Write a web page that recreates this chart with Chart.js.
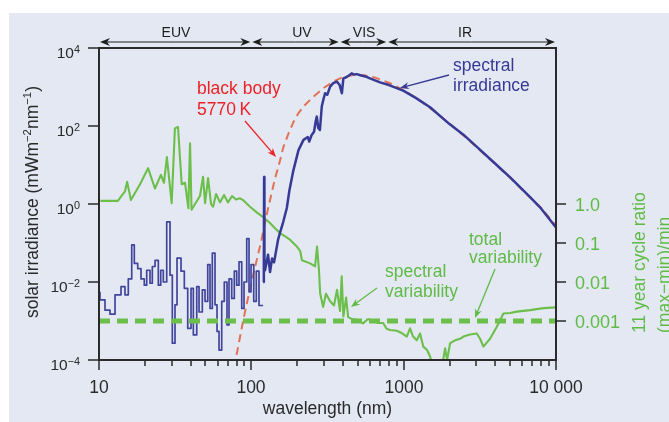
<!DOCTYPE html>
<html>
<head>
<meta charset="utf-8">
<title>Solar spectral irradiance</title>
<script src="https://cdn.jsdelivr.net/npm/chart.js@4.4.1/dist/chart.umd.min.js"></script>
<style>
  html, body { margin: 0; padding: 0; background: #ffffff; }
  #wrap { position: relative; width: 669px; height: 422px; overflow: hidden; }
  #panel { position: absolute; left: 9px; top: 13px; right: 0; bottom: 0; background: #e3e8f3; }
  #chart { position: absolute; left: 0; top: 0; }
</style>
</head>
<body>
<div id="wrap">
  <div id="panel"></div>
  <canvas id="chart" width="669" height="422"></canvas>
</div>
<script>
// ---- data: wavelength in nm, irradiance in mW m^-2 nm^-1, variability as (max-min)/min ----

// EUV irradiance, binned (each value holds until the next wavelength)
const euvWl = [10.15, 10.95, 11.81, 12.74, 13.95, 14.81, 15.57, 16.40, 17.05, 17.95,
  18.87, 19.83, 20.57, 21.62, 22.39, 23.33, 24.52, 25.42, 26.43, 27.83,
  29.26, 30.29, 31.55, 32.52, 34.55, 36.32, 38.23, 40.19, 41.62, 43.81,
  45.36, 47.68, 49.66, 51.73, 53.56, 55.45, 57.77, 59.54, 61.37, 63.91,
  66.46, 69.23, 71.37, 74.34, 77.32, 80.17, 83.01, 86.49, 89.55, 93.28,
  96.58, 99.54, 103.7, 107.8, 112.3, 117.0, 119.5];
const euvIrr = [5.6e-3, 3.5e-3, 1.9e-3, 1.5e-3, 4.7e-3, 7.6e-3, 4.7e-3, 1.2e-2, 8.9e-2, 3.0e-2,
  2.2e-2, 1.2e-2, 8.3e-3, 2.0e-2, 9.3e-3, 2.5e-2, 3.6e-2, 8.3e-3, 2.0e-2, 1.0e-2,
  0.35, 1.5e-2, 2.7e-4, 2.6e-3, 4.1e-2, 1.9e-2, 6.9e-3, 6.5e-4, 6.9e-3, 4.4e-4,
  7.6e-3, 1.7e-3, 6.3e-3, 3.2e-3, 2.8e-2, 2.1e-3, 5.5e-2, 2.6e-3, 5.4e-4, 1.8e-4,
  3.2e-3, 1.0e-2, 7.9e-4, 1.2e-2, 3.8e-3, 1.9e-2, 8.3e-3, 3.3e-2, 2.1e-3, 1.0e-2,
  0.13, 5.6e-3, 2.8e-2, 3.2e-3, 1.9e-2, 2.5e-3, 2.5e-3];

// UV to IR irradiance (Lyman alpha spike at 121.6 nm)
const solarWl = [119.5, 120.8, 121.3, 121.9, 123, 128.7, 132.7, 136.8, 141, 149.7,
  154, 162, 171, 178, 189, 204, 220, 235, 240, 249,
  258, 264, 269, 275, 282, 290, 298, 305, 315, 329,
  345, 364, 380, 393, 402, 420, 440, 456, 475, 492,
  520, 560, 601, 700, 800, 901, 1000, 1200, 1490, 2000,
  2466, 3000, 4080, 5000, 6760, 8000, 10000];
const solarIrr = [1.0e-2, 2.0e-2, 4.9, 2.5e-2, 2.0e-2, 5.0e-2, 1.8e-2, 4.0e-2, 3.2e-2, 0.12,
  0.18, 0.35, 0.79, 2.3, 7.4, 24, 44, 52, 40, 59,
  71, 126, 174, 89, 79, 316, 500, 692, 631, 1023,
  1259, 1380, 1122, 692, 1660, 1778, 1995, 2239, 2089, 2138,
  1995, 1862, 1660, 1318, 1122, 933, 794, 525, 302, 112,
  60, 30, 10, 4.8, 1.5, 0.76, 0.25];

// black body at 5770 K
const bbWl = [78, 80, 88.6, 97, 106, 116, 129, 143, 154, 162,
  175, 189, 204, 225, 255, 297, 345, 402, 468, 550,
  650, 800, 1000, 1300, 1600, 2000, 2500, 3000, 4000, 5000,
  6500, 8000, 10000];
const bbIrr = [6.3e-5, 1.35e-4, 1.07e-3, 5.6e-3, 2.5e-2, 0.11, 0.79, 4.5, 12.6, 28,
  63, 126, 214, 347, 562, 933, 1380, 1820, 2042, 1995,
  1738, 1288, 832, 427, 234, 115, 55, 29, 10.5, 4.7,
  1.7, 0.79, 0.28];

// 11 year cycle spectral variability
const varWl = [10.2, 13.3, 14.8, 15.3, 16.2, 18.6, 21.0, 23.3, 25.5, 26.7,
  27.9, 30.0, 31.5, 33.0, 34.9, 36.7, 38.6, 39.6, 40.5, 42.7,
  46.0, 48.2, 49.7, 52.0, 54.4, 56.1, 58.7, 62.3, 66.2, 70.3,
  74.7, 79.4, 84.4, 88.2, 98.0, 109, 119, 133, 143, 154,
  166, 180, 199, 209, 215, 243, 262, 270, 278, 283,
  296, 309, 329, 349, 365, 382, 392, 402, 419, 432,
  459, 494, 541, 583, 629, 679, 733, 774, 814, 901,
  962, 1048, 1101, 1153, 1219, 1281, 1346, 1425, 1490, 1560,
  1682, 1761, 1823, 1871, 1928, 2018, 2175, 2346, 2466, 2729,
  3018, 3174, 3338, 3513, 3690, 4080, 4516, 5000, 5530, 6761,
  8266, 10000];
const varRatio = [1.2, 1.2, 2.1, 3.7, 1.26, 3.2, 8.3, 2.5, 5.6, 3.5,
  16, 1.05, 87, 95, 3.2, 3.5, 0.78, 36, 0.71, 1.0,
  1.6, 5.0, 1.05, 4.6, 1.0, 0.85, 1.8, 1.1, 1.7, 1.1,
  1.6, 1.3, 1.4, 1.26, 0.85, 0.6, 0.47, 0.32, 0.24, 0.18,
  0.15, 0.12, 0.081, 0.063, 0.036, 0.030, 0.025, 0.081, 0.02, 0.0051,
  0.0023, 0.005, 0.0032, 0.0025, 0.0063, 0.0018, 0.014, 0.0013, 0.004, 0.00126,
  0.00112, 0.00107, 0.00087, 0.00112, 0.001, 0.00089, 0.00089, 0.00063, 0.00059, 0.00056,
  0.0005, 0.0004, 0.00065, 0.0004, 0.00032, 0.00048, 0.00022, 0.00018, 0.000123, 0.000063,
  0.00005, 0.00008, 0.00011, 0.0002, 0.0001, 0.00027, 0.00032, 0.00035, 0.0004, 0.00045,
  0.00048, 0.00035, 0.00022, 0.00028, 0.00035, 0.0007, 0.00155, 0.0016, 0.00174, 0.0019,
  0.00214, 0.00224];

// total (spectrally integrated) variability
const totalVarWl = [10, 10000];
const totalVarRatio = [0.001, 0.001];

// axis ticks and band labels
const xTicks = [10, 100, 1000, 10000];
const xTickLabels = ['10', '100', '1000', '10 000'];
const yTicks = [1e4, 1e2, 1e0, 1e-2, 1e-4];
const yTickExponents = ['4', '2', '0', '\u22122', '\u22124'];
const ratioTicks = [1, 0.1, 0.01, 0.001];
const ratioTickLabels = ['1.0', '0.1', '0.01', '0.001'];
const bandEdges = [10, 100, 380, 780, 10000];
const bandNames = ['EUV', 'UV', 'VIS', 'IR'];
const bandLabelAt = [32, 215, 550, 2530];

// ---- styles ----
const FONT = "'Liberation Sans', Arial, sans-serif";
const INK = '#2a2a2a';
const BLUE = '#363a96';
const RED = '#ec2227';
const RED_DASH = 'rgba(226, 108, 76, 0.95)';
const GREEN = '#6cbf4a';
const GREEN_TEXT = '#5fbb46';

const font = size => `${size}px ${FONT}`;
const toPoints = (xs, ys) => xs.map((x, i) => ({ x: x, y: ys[i] }));

// text with superscript pieces, drawn left to right from (x, y)
function richWidth(ctx, parts, size, supScale) {
    let w = 0;
    parts.forEach(p => {
        ctx.font = font(p.sup ? size * supScale : size);
        w += ctx.measureText(p.t).width;
    });
    return w;
}
function drawRich(ctx, parts, x, y, size, supScale, raise) {
    let cx = x;
    parts.forEach(p => {
        ctx.font = font(p.sup ? size * supScale : size);
        ctx.fillText(p.t, cx, p.sup ? y - raise : y);
        cx += ctx.measureText(p.t).width;
    });
}

// straight line with a filled, notched head at (x2, y2)
function drawArrow(ctx, x1, y1, x2, y2, color, len, half, width) {
    const ang = Math.atan2(y2 - y1, x2 - x1);
    ctx.save();
    ctx.strokeStyle = color;
    ctx.fillStyle = color;
    ctx.lineWidth = width;
    ctx.beginPath();
    ctx.moveTo(x1, y1);
    ctx.lineTo(x2 - Math.cos(ang) * len * 0.6, y2 - Math.sin(ang) * len * 0.6);
    ctx.stroke();
    ctx.translate(x2, y2);
    ctx.rotate(ang);
    ctx.beginPath();
    ctx.moveTo(0, 0);
    ctx.lineTo(-len, -half);
    ctx.lineTo(-len * 0.7, 0);
    ctx.lineTo(-len, half);
    ctx.closePath();
    ctx.fill();
    ctx.restore();
}

// frame, ticks, labels, band arrows and annotations
const decorations = {
    id: 'decorations',
    afterDraw(chart) {
        const { ctx, chartArea: a, scales } = chart;
        const x = scales.x, y = scales.y, y2 = scales.y2;
        ctx.save();

        // plot frame
        ctx.strokeStyle = INK;
        ctx.lineWidth = 2;
        ctx.strokeRect(a.left, a.top, a.right - a.left, a.bottom - a.top);

        // left ticks and labels
        ctx.lineWidth = 1.5;
        ctx.fillStyle = INK;
        ctx.textBaseline = 'alphabetic';
        ctx.textAlign = 'left';
        yTicks.forEach((v, i) => {
            const py = Math.round(y.getPixelForValue(v));
            ctx.beginPath();
            ctx.moveTo(a.left - 11, py);
            ctx.lineTo(a.left, py);
            ctx.stroke();
            const parts = [{ t: '10' }, { t: yTickExponents[i], sup: true }];
            const w = richWidth(ctx, parts, 15.5, 0.7);
            drawRich(ctx, parts, 80 - w, py + 9.5, 15.5, 0.7, 5);
        });

        // bottom ticks, major and minor
        xTicks.forEach((v, i) => {
            const px = Math.round(x.getPixelForValue(v));
            ctx.beginPath();
            ctx.moveTo(px, a.bottom);
            ctx.lineTo(px, a.bottom + 10);
            ctx.stroke();
            ctx.font = font(17.5);
            ctx.textAlign = 'center';
            ctx.fillText(xTickLabels[i], px, 393);
            if (i < xTicks.length - 1) {
                for (let m = 2; m <= 9; m++) {
                    const mx = Math.round(x.getPixelForValue(v * m));
                    ctx.beginPath();
                    ctx.moveTo(mx, a.bottom);
                    ctx.lineTo(mx, a.bottom + 6);
                    ctx.stroke();
                }
            }
        });
        ctx.font = font(17.5);
        ctx.fillText('wavelength (nm)', (a.left + a.right) / 2, 414);

        // right ticks and labels
        ctx.textAlign = 'left';
        ratioTicks.forEach((v, i) => {
            const py = Math.round(y2.getPixelForValue(v));
            ctx.strokeStyle = INK;
            ctx.beginPath();
            ctx.moveTo(a.right, py);
            ctx.lineTo(a.right + 10, py);
            ctx.stroke();
            ctx.fillStyle = GREEN_TEXT;
            ctx.font = font(18);
            ctx.fillText(ratioTickLabels[i], 575, py + 6.5);
        });

        // left axis title
        ctx.fillStyle = INK;
        const title = [{ t: 'solar irradiance (mWm' }, { t: '\u22122', sup: true },
            { t: 'nm' }, { t: '\u22121', sup: true }, { t: ')' }];
        const tw = richWidth(ctx, title, 17.5, 0.65);
        ctx.save();
        ctx.translate(38, 202);
        ctx.rotate(-Math.PI / 2);
        drawRich(ctx, title, -tw / 2, 0, 17.5, 0.65, 7);
        ctx.restore();

        // right axis title, two lines
        ctx.fillStyle = GREEN_TEXT;
        ctx.font = font(17.5);
        ctx.textAlign = 'left';
        ctx.save();
        ctx.translate(645, 333);
        ctx.rotate(-Math.PI / 2);
        ctx.fillText('11 year cycle ratio', 0, 0);
        ctx.fillText('(max\u2212min)/min', 0, 25);
        ctx.restore();

        // spectral bands above the plot
        const bandY = 42;
        for (let i = 0; i < bandNames.length; i++) {
            const x0 = x.getPixelForValue(bandEdges[i]) + 1;
            const x1 = x.getPixelForValue(bandEdges[i + 1]) - 1;
            drawArrow(ctx, (x0 + x1) / 2, bandY, x0, bandY, '#1e1e1e', 10, 4, 1.2);
            drawArrow(ctx, (x0 + x1) / 2, bandY, x1, bandY, '#1e1e1e', 10, 4, 1.2);
            ctx.fillStyle = '#1e1e1e';
            ctx.font = font(14);
            ctx.textAlign = 'center';
            ctx.fillText(bandNames[i], x.getPixelForValue(bandLabelAt[i]), 36.5);
        }

        // annotations
        ctx.textAlign = 'left';
        ctx.font = font(17.5);
        ctx.fillStyle = RED;
        ctx.fillText('black body', 197, 94);
        ctx.fillText('5770\u2009K', 197, 115);
        drawArrow(ctx, 245, 121, 276, 157, RED, 9, 3.5, 1.3);

        ctx.fillStyle = BLUE;
        ctx.fillText('spectral', 453, 71);
        ctx.fillText('irradiance', 453, 91);
        drawArrow(ctx, 449, 75, 400, 88, BLUE, 9, 3.5, 1.3);

        ctx.fillStyle = GREEN_TEXT;
        ctx.fillText('spectral', 385, 277);
        ctx.fillText('variability', 385, 297);
        drawArrow(ctx, 377, 288, 351, 307, GREEN_TEXT, 9, 3.5, 1.3);

        ctx.fillText('total', 469, 245);
        ctx.fillText('variability', 469, 263);
        drawArrow(ctx, 495, 269, 475, 318, GREEN_TEXT, 9, 3.5, 1.3);

        ctx.restore();
    }
};

const hiddenAxis = {
    ticks: { display: false },
    grid: { display: false },
    border: { display: false }
};

new Chart(document.getElementById('chart'), {
    type: 'line',
    data: {
        datasets: [
            {
                label: 'total variability',
                data: toPoints(totalVarWl, totalVarRatio),
                yAxisID: 'y2',
                borderColor: GREEN,
                borderWidth: 5,
                borderDash: [11, 7],
                borderCapStyle: 'butt'
            },
            {
                label: 'spectral irradiance',
                data: toPoints(solarWl, solarIrr),
                yAxisID: 'y',
                borderColor: BLUE,
                borderWidth: 2.5
            },
            {
                label: 'spectral irradiance (EUV bins)',
                data: toPoints(euvWl, euvIrr),
                yAxisID: 'y',
                borderColor: '#41459c',
                borderWidth: 1.7,
                stepped: 'after'
            },
            {
                label: 'black body 5770 K',
                data: toPoints(bbWl, bbIrr),
                yAxisID: 'y',
                borderColor: RED_DASH,
                borderWidth: 2,
                borderDash: [8, 5]
            },
            {
                label: 'spectral variability',
                data: toPoints(varWl, varRatio),
                yAxisID: 'y2',
                borderColor: GREEN,
                borderWidth: 2.1
            }
        ]
    },
    options: {
        responsive: false,
        animation: false,
        devicePixelRatio: 1,
        elements: {
            point: { radius: 0 },
            line: { tension: 0, borderJoinStyle: 'round', fill: false }
        },
        layout: { padding: { top: 48, left: 0, right: 0, bottom: 0 } },
        plugins: {
            legend: { display: false },
            tooltip: { enabled: false }
        },
        scales: {
            x: Object.assign({
                type: 'logarithmic', min: 10, max: 10000,
                afterFit: s => { s.height = 62; }
            }, hiddenAxis),
            y: Object.assign({
                type: 'logarithmic', position: 'left', min: 1e-4, max: 1e4,
                afterFit: s => { s.width = 99; }
            }, hiddenAxis),
            y2: Object.assign({
                type: 'logarithmic', position: 'right', min: 1e-4, max: 1e4,
                afterFit: s => { s.width = 113; }
            }, hiddenAxis)
        }
    },
    plugins: [decorations]
});
</script>
</body>
</html>
